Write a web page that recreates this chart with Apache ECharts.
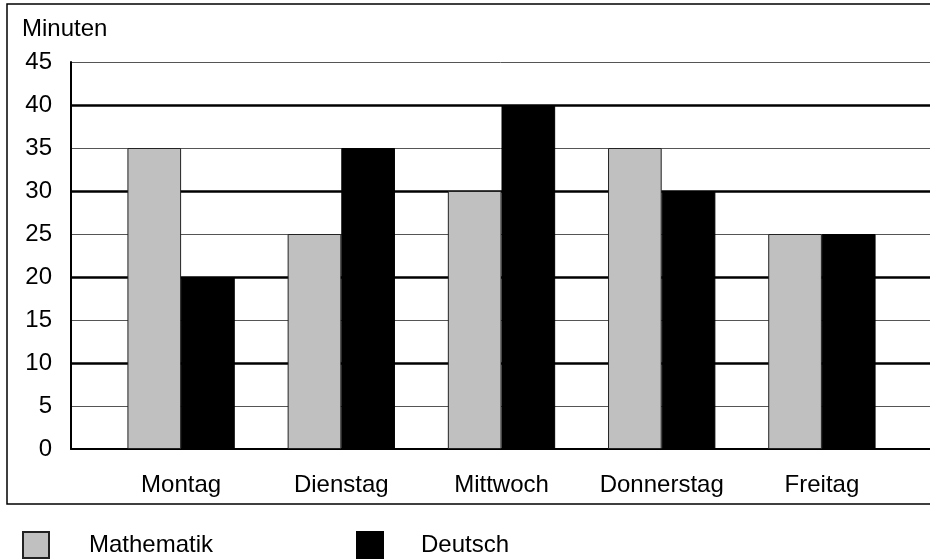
<!DOCTYPE html>
<html>
<head>
<meta charset="utf-8">
<script src="https://cdn.jsdelivr.net/npm/echarts@6/dist/echarts.min.js"></script>
<style>
  html, body { margin: 0; padding: 0; background: #fff; }
  #main { width: 930px; height: 560px; }
</style>
</head>
<body>
<div id="main"></div>
<script>
// Werte aus dem Diagramm
var days = ['Montag', 'Dienstag', 'Mittwoch', 'Donnerstag', 'Freitag'];
var mathe = [35, 25, 30, 35, 25];
var deutsch = [20, 35, 40, 30, 25];
var yMin = 0, yMax = 45;

var font = 'Liberation Sans, Arial, sans-serif';
var fs = 24;

var myChart = echarts.init(document.getElementById('main'));
var option = {
	animation: false,
	backgroundColor: '#fff',
	textStyle: { fontFamily: font, color: '#000' },
	graphic: [
		{ type: 'rect', z: -10, shape: { x: 7, y: 4, width: 1000, height: 500 },
		  style: { fill: 'none', stroke: '#000', lineWidth: 1.5 } },
		{ type: 'text', left: 22, top: 17,
		  style: { text: 'Minuten', font: fs + 'px ' + font, fill: '#000' } }
	],
	legend: [{
		data: ['Mathematik'],
		left: 17, top: 526,
		itemWidth: 26, itemHeight: 26,
		icon: 'rect',
		textStyle: { fontSize: fs, fontFamily: font, color: '#000', padding: [0, 0, 0, 35] }
	}, {
		data: ['Deutsch'],
		left: 351, top: 526,
		itemWidth: 26, itemHeight: 26,
		icon: 'rect',
		textStyle: { fontSize: fs, fontFamily: font, color: '#000', padding: [0, 0, 0, 33] }
	}],
	grid: [
		// Balken
		{ left: 101, width: 801, top: 62, bottom: 111 },
		// Rahmen und Gitterlinien
		{ left: 71, right: 0, top: 62, bottom: 111 }
	],
	xAxis: [{
		type: 'category',
		gridIndex: 0,
		data: days,
		axisLine: { show: false },
		axisTick: { show: false },
		axisLabel: { interval: 0, fontSize: fs, color: '#000', fontFamily: font, margin: 24 }
	}, {
		type: 'value',
		gridIndex: 1,
		min: 0, max: 1,
		axisLine: { show: true, lineStyle: { color: '#000', width: 2 } },
		axisTick: { show: false },
		axisLabel: { show: false },
		splitLine: { show: false }
	}],
	yAxis: [{
		type: 'value',
		gridIndex: 0,
		min: yMin, max: yMax,
		show: false
	}, {
		type: 'value',
		gridIndex: 1,
		min: yMin, max: yMax, interval: 5,
		axisLine: { show: true, lineStyle: { color: '#000', width: 2 } },
		axisTick: { show: false },
		axisLabel: { fontSize: fs, color: '#000', fontFamily: font, margin: 19 },
		splitLine: { show: true, showMinLine: false, lineStyle: { color: '#555', width: 1 } }
	}, {
		type: 'value',
		gridIndex: 1,
		min: yMin, max: yMax, interval: 10,
		axisLine: { show: false },
		axisTick: { show: false },
		axisLabel: { show: false },
		splitLine: { show: true, showMinLine: false, showMaxLine: false, lineStyle: { color: '#000', width: 2.5 } }
	}],
	series: [{
		name: 'Mathematik',
		type: 'bar',
		xAxisIndex: 0, yAxisIndex: 0,
		data: mathe,
		barGap: 0,
		barCategoryGap: '33%',
		itemStyle: { color: '#c0c0c0', borderColor: '#222', borderWidth: 1 }
	}, {
		name: 'Deutsch',
		type: 'bar',
		xAxisIndex: 0, yAxisIndex: 0,
		data: deutsch,
		barGap: 0,
		barCategoryGap: '33%',
		itemStyle: { color: '#000', borderColor: '#000', borderWidth: 1 }
	}]
};
myChart.setOption(option);
</script>
</body>
</html>
